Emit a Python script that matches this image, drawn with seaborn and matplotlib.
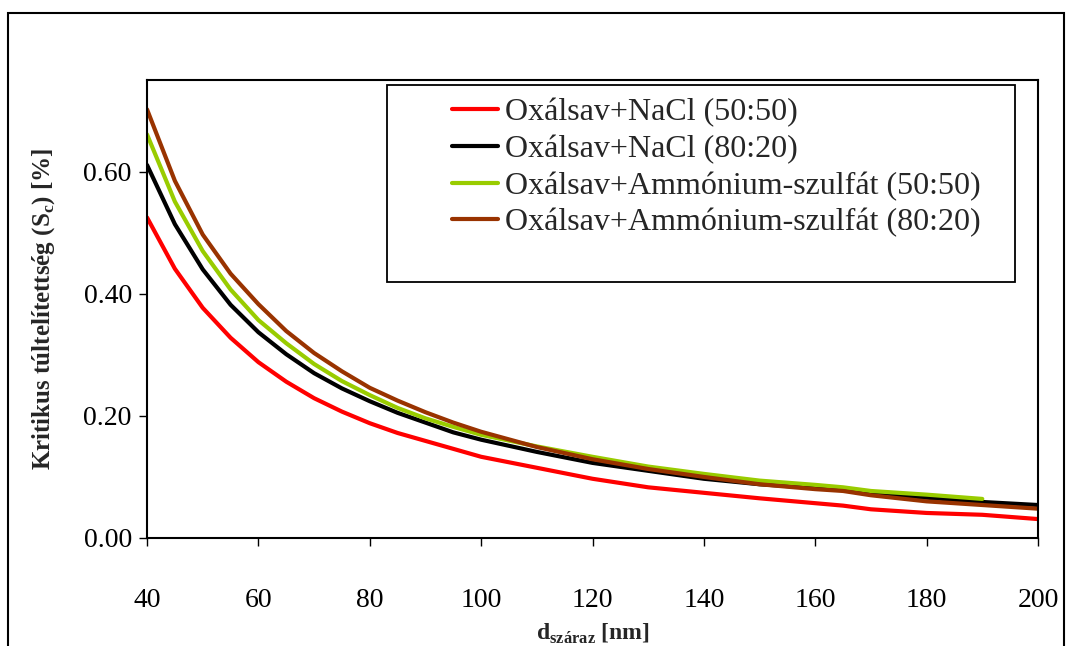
import matplotlib
matplotlib.use("Agg")
import matplotlib.pyplot as plt
import seaborn as sns
import pandas as pd
from matplotlib.patches import Rectangle

x_main = [40, 45, 50, 55, 60, 65, 70, 75, 80, 85, 90, 95, 100, 110, 120, 130, 140, 150, 160, 165, 170, 180, 190, 200]
red_vals = [0.525, 0.441, 0.377, 0.328, 0.288, 0.256, 0.229, 0.207, 0.188, 0.172, 0.159, 0.146, 0.133, 0.115, 0.097,
            0.083, 0.074, 0.065, 0.057, 0.053, 0.047, 0.041, 0.038, 0.031]
black_vals = [0.611, 0.514, 0.440, 0.382, 0.337, 0.301, 0.270, 0.245, 0.224, 0.205, 0.189, 0.173, 0.161, 0.141, 0.123,
              0.110, 0.097, 0.088, 0.082, 0.079, 0.074, 0.066, 0.059, 0.054]
brown_vals = [0.702, 0.585, 0.497, 0.433, 0.383, 0.339, 0.303, 0.273, 0.246, 0.225, 0.206, 0.189, 0.174, 0.149, 0.129,
              0.113, 0.100, 0.088, 0.080, 0.077, 0.070, 0.060, 0.054, 0.048]
x_green = [40, 45, 50, 55, 60, 65, 70, 75, 80, 85, 90, 95, 100, 110, 120, 130, 140, 150, 160, 165, 170, 180, 190]
green_vals = [0.661, 0.551, 0.470, 0.407, 0.357, 0.319, 0.285, 0.257, 0.234, 0.213, 0.196, 0.182, 0.169, 0.150, 0.133,
              0.117, 0.105, 0.094, 0.087, 0.083, 0.077, 0.071, 0.064]

labels = ["Oxálsav+NaCl (50:50)", "Oxálsav+NaCl (80:20)",
          "Oxálsav+Ammónium-szulfát (50:50)", "Oxálsav+Ammónium-szulfát (80:20)"]
colors = ["#ff0000", "#000000", "#99cc00", "#993300"]

frames = []
for lab, xs, ys in [(labels[0], x_main, red_vals), (labels[1], x_main, black_vals),
                    (labels[2], x_green, green_vals), (labels[3], x_main, brown_vals)]:
    frames.append(pd.DataFrame({"d": xs, "S": ys, "series": lab}))
df = pd.concat(frames, ignore_index=True)

sns.set_theme(style="white")
plt.rcParams["font.family"] = ["Liberation Serif", "DejaVu Serif"]
plt.rcParams["mathtext.fontset"] = "custom"
plt.rcParams["mathtext.rm"] = "Liberation Serif"
plt.rcParams["mathtext.bf"] = "Liberation Serif:bold"

fig = plt.figure(figsize=(10.67, 6.46), dpi=100)
ax = fig.add_axes([0.1378, 0.1672, 0.835, 0.7088])

sns.lineplot(data=df, x="d", y="S", hue="series", hue_order=labels,
             palette=dict(zip(labels, colors)), linewidth=3, ax=ax, legend=True, sort=False)

ax.set_xlim(40, 200)
ax.set_ylim(0, 0.75)
ax.set_xticks([40, 60, 80, 100, 120, 140, 160, 180, 200])
ax.set_yticks([0.0, 0.2, 0.4, 0.6])
ax.set_yticklabels(["0.00", "0.20", "0.40", "0.60"])
ax.tick_params(axis="both", which="both", direction="out", length=6, width=1, colors="black",
               labelsize=20, bottom=True, left=True)
ax.tick_params(axis="x", pad=30)
ax.tick_params(axis="y", pad=5)
for s in ax.spines.values():
    s.set_visible(True)
    s.set_color("black")
    s.set_linewidth(1.5)

ax.set_xlabel(r"d$_{\mathbf{száraz}}$ [nm]", fontsize=17, fontweight="bold", labelpad=6)
ax.set_ylabel(r"Kritikus túltelítettség (S$_{\mathbf{c}}$) [%]", fontsize=18, fontweight="bold", labelpad=19)

handles, labs = ax.get_legend_handles_labels()
leg = ax.legend(handles, labs, loc="upper left", bbox_to_anchor=((452 - 147) / 891, (538 - 98) / 458),
                fontsize=23, frameon=False, handlelength=1.45, handletextpad=0.22,
                borderpad=0, labelspacing=0.23, borderaxespad=0)
for line in leg.get_lines():
    line.set_linewidth(3)

ax.add_patch(Rectangle(((387 - 147) / 891, (538 - 282) / 458), (1015 - 387) / 891, (282 - 85) / 458,
                       transform=ax.transAxes, fill=False, edgecolor="black", linewidth=1.3,
                       zorder=5, clip_on=False))

fig.patches.append(Rectangle((8 / 1067, -0.1), (1064 - 8) / 1067, 1 - 13 / 646 + 0.1,
                             transform=fig.transFigure, fill=False, edgecolor="black", linewidth=1.5))

fig.savefig("out.png", dpi=100, facecolor="white")
